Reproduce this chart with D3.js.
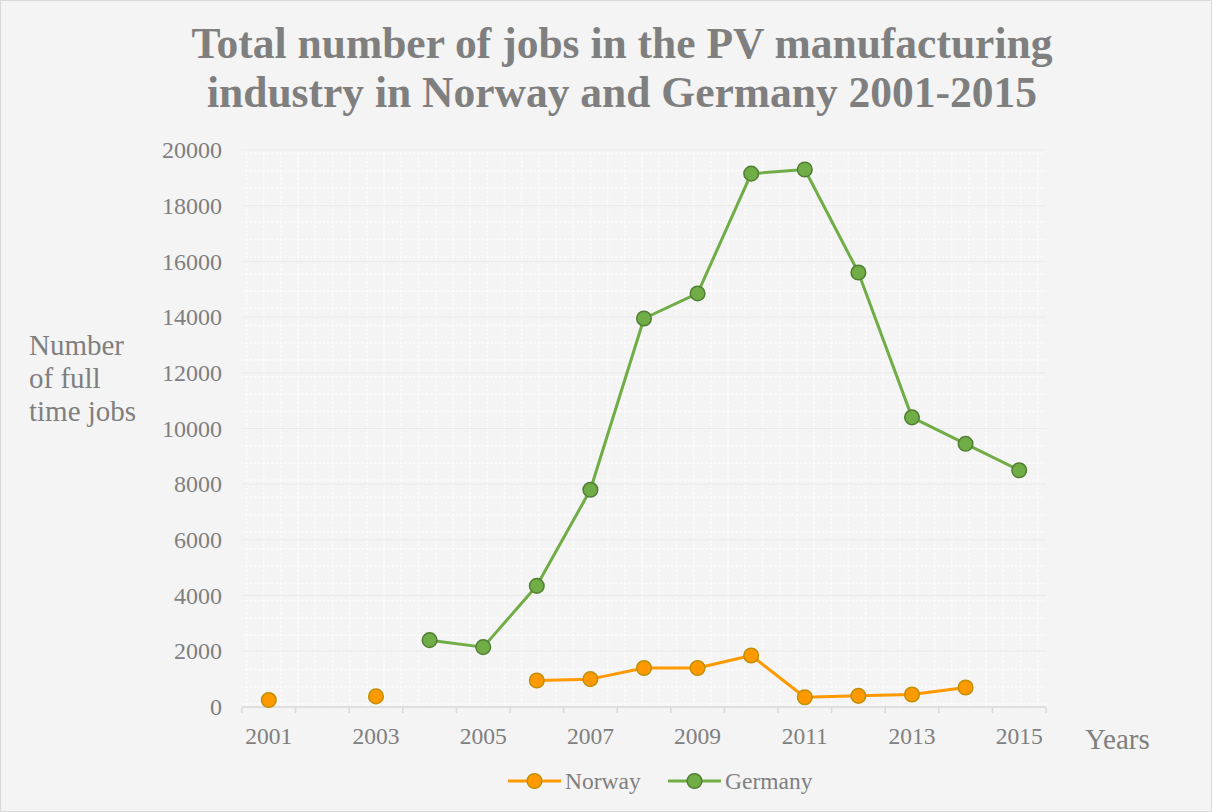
<!DOCTYPE html>
<html>
<head>
<meta charset="utf-8">
<script src="https://cdn.jsdelivr.net/npm/d3@7"></script>
<style>
  body { margin: 0; background: #fff; }
  svg { display: block; font-family: "Liberation Serif", "Times New Roman", serif; }
</style>
</head>
<body>
<svg id="chart"></svg>
<script>
const years = [2001, 2002, 2003, 2004, 2005, 2006, 2007, 2008, 2009, 2010, 2011, 2012, 2013, 2014, 2015];
const norway = [250, null, 380, null, null, 950, 1000, 1400, 1400, 1850, 350, 400, 450, 700, null];
const germany = [null, null, null, 2400, 2150, 4350, 7800, 13950, 14850, 19150, 19300, 15600, 10400, 9450, 8500];
const yTicks = [0, 2000, 4000, 6000, 8000, 10000, 12000, 14000, 16000, 18000, 20000];
const titleLines = ["Total number of jobs in the PV manufacturing", "industry in Norway and Germany 2001-2015"];
const yTitleLines = ["Number", "of full", "time jobs"];

const width = 1212;
const height = 812;
const plot = { left: 242, right: 1046, top: 150, bottom: 707 };
const textColor = "#7f7f7f";

const series = [
  { name: "Norway", values: norway, line: "#ff9900", fill: "#ff9900", stroke: "#bf8f00" },
  { name: "Germany", values: germany, line: "#70ad47", fill: "#70ad47", stroke: "#507e32" }
];

const svg = d3.select("#chart")
  .attr("width", width)
  .attr("height", height);

svg.append("rect")
  .attr("x", 0.5).attr("y", 0.5)
  .attr("width", width - 1).attr("height", height - 1)
  .attr("fill", "#f4f4f4")
  .attr("stroke", "#d9d9d9");

// dotted pattern fill of plot area
const cell = 17.2;
const defs = svg.append("defs");
const pat = defs.append("pattern")
  .attr("id", "dots")
  .attr("patternUnits", "userSpaceOnUse")
  .attr("x", plot.left + 3.5).attr("y", plot.top + 2.5)
  .attr("width", cell).attr("height", cell);
pat.append("line")
  .attr("x1", 0).attr("x2", cell).attr("y1", 1).attr("y2", 1)
  .attr("stroke", "#ffffff").attr("stroke-width", 1.3)
  .attr("stroke-dasharray", "2.1,2.2");
pat.append("line")
  .attr("x1", 1).attr("x2", 1).attr("y1", 0).attr("y2", cell)
  .attr("stroke", "#ffffff").attr("stroke-width", 1.3)
  .attr("stroke-dasharray", "2.1,2.2");

svg.append("rect")
  .attr("x", plot.left).attr("y", plot.top)
  .attr("width", plot.right - plot.left).attr("height", plot.bottom - plot.top)
  .attr("fill", "url(#dots)");

const x = d3.scaleBand()
  .domain(years)
  .range([plot.left, plot.right]);

const y = d3.scaleLinear()
  .domain([0, 20000])
  .range([plot.bottom, plot.top]);

// major gridlines
svg.append("g")
  .selectAll("line")
  .data(yTicks.slice(1))
  .join("line")
  .attr("x1", plot.left).attr("x2", plot.right)
  .attr("y1", d => y(d)).attr("y2", d => y(d))
  .attr("stroke", "#ebebeb")
  .attr("stroke-width", 1.2);

// y axis labels
const yAxis = svg.append("g")
  .attr("transform", `translate(${plot.left},0)`)
  .call(d3.axisLeft(y).tickValues(yTicks).tickSize(0).tickPadding(20).tickFormat(d3.format("d")));
yAxis.select(".domain").remove();
yAxis.selectAll("text")
  .attr("fill", textColor)
  .style("font-size", "24px")
  .style("font-family", "Liberation Serif, serif");

// x axis
svg.append("line")
  .attr("x1", plot.left).attr("x2", plot.right)
  .attr("y1", plot.bottom).attr("y2", plot.bottom)
  .attr("stroke", "#d9d9d9").attr("stroke-width", 1.5);

const boundaries = years.map(d => x(d)).concat([plot.right]);
svg.append("g")
  .selectAll("line")
  .data(boundaries)
  .join("line")
  .attr("x1", d => d).attr("x2", d => d)
  .attr("y1", plot.bottom).attr("y2", plot.bottom + 6)
  .attr("stroke", "#d9d9d9").attr("stroke-width", 1.5);

svg.append("g")
  .selectAll("text")
  .data(years.filter((d, i) => i % 2 === 0))
  .join("text")
  .attr("x", d => x(d) + x.bandwidth() / 2)
  .attr("y", plot.bottom + 37)
  .attr("text-anchor", "middle")
  .attr("fill", textColor)
  .style("font-size", "23.5px")
  .text(d => d);

// series
const line = d3.line()
  .defined(d => d.v !== null)
  .x(d => x(d.year) + x.bandwidth() / 2)
  .y(d => y(d.v));

series.forEach(s => {
  const pts = years.map((year, i) => ({ year, v: s.values[i] }));
  svg.append("path")
    .datum(pts)
    .attr("fill", "none")
    .attr("stroke", s.line)
    .attr("stroke-width", 3)
    .attr("stroke-linejoin", "round")
    .attr("d", line);
  svg.append("g")
    .selectAll("circle")
    .data(pts.filter(d => d.v !== null))
    .join("circle")
    .attr("cx", d => x(d.year) + x.bandwidth() / 2)
    .attr("cy", d => y(d.v))
    .attr("r", 7.3)
    .attr("fill", s.fill)
    .attr("stroke", s.stroke)
    .attr("stroke-width", 1.5);
});

// title
svg.append("text")
  .attr("x", 622)
  .attr("text-anchor", "middle")
  .attr("fill", textColor)
  .style("font-size", "43.5px")
  .style("font-weight", "bold")
  .selectAll("tspan")
  .data(titleLines)
  .join("tspan")
  .attr("x", 622)
  .attr("y", (d, i) => 58 + i * 49)
  .text(d => d);

// y axis title
svg.append("text")
  .attr("fill", textColor)
  .style("font-size", "29px")
  .selectAll("tspan")
  .data(yTitleLines)
  .join("tspan")
  .attr("x", 29)
  .attr("y", (d, i) => 355 + i * 33)
  .text(d => d);

// x axis title
svg.append("text")
  .attr("x", 1085)
  .attr("y", 749)
  .attr("fill", textColor)
  .style("font-size", "29px")
  .text("Years");

// legend
const legend = svg.append("g");
const legendX = [508, 668];
series.forEach((s, i) => {
  const g = legend.append("g").attr("transform", `translate(${legendX[i]},781)`);
  g.append("line")
    .attr("x1", 0).attr("x2", 53)
    .attr("stroke", s.line).attr("stroke-width", 3);
  g.append("circle")
    .attr("cx", 26.5).attr("r", 7.3)
    .attr("fill", s.fill).attr("stroke", s.stroke).attr("stroke-width", 1.5);
  g.append("text")
    .attr("x", 57).attr("y", 8)
    .attr("fill", textColor)
    .style("font-size", "23.5px")
    .text(s.name);
});
</script>
</body>
</html>
